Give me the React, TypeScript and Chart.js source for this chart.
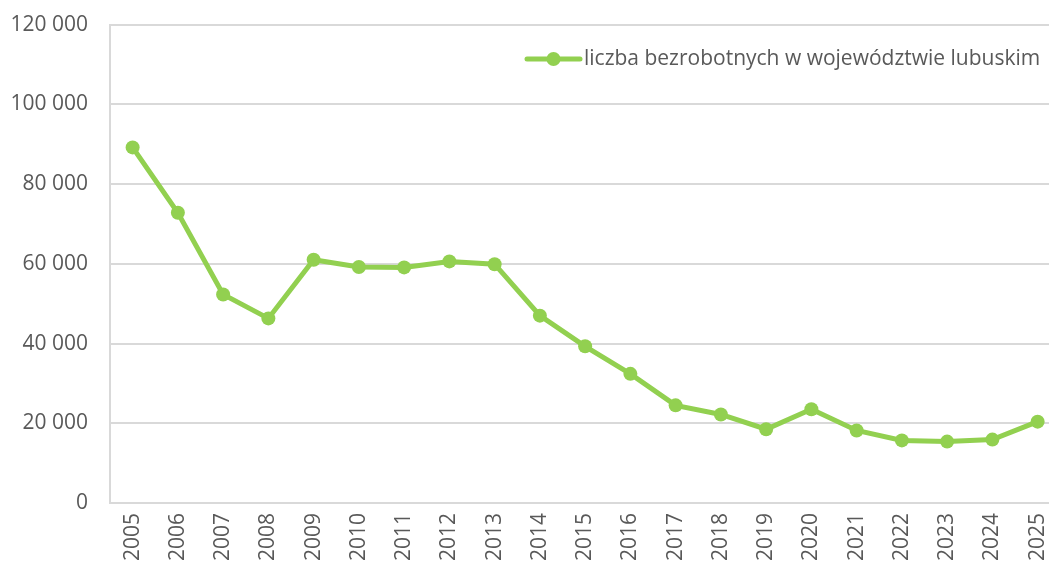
import React, { useEffect, useRef } from "react";
import { Chart, registerables } from "chart.js";

Chart.register(...registerables);

const years = ["2005","2006","2007","2008","2009","2010","2011","2012","2013","2014","2015","2016","2017","2018","2019","2020","2021","2022","2023","2024","2025"];
const unemployed = [89200, 72800, 52300, 46300, 61000, 59200, 59100, 60600, 59900, 47000, 39300, 32400, 24500, 22200, 18500, 23500, 18200, 15700, 15400, 15900, 20400];
const seriesLabel = "liczba bezrobotnych w województwie lubuskim";
const yTicks = [0, 20000, 40000, 60000, 80000, 100000, 120000];

const GREEN = "#92d050";
const TEXT = "#595959";
const GRID = "#d9d9d9";
const FONT = "'Open Sans', sans-serif";
const SHIFT = 10;

const fmt = (v: number) => v.toString().replace(/\B(?=(\d{3})+(?!\d))/g, " ");

const legendPlugin = {
  id: "customLegend",
  afterDraw(chart: any) {
    const ctx = chart.ctx;
    const y = 59 + SHIFT;
    const x0 = 527;
    const x1 = 580;
    ctx.save();
    ctx.strokeStyle = GREEN;
    ctx.lineWidth = 5;
    ctx.lineCap = "round";
    ctx.beginPath();
    ctx.moveTo(x0, y);
    ctx.lineTo(x1, y);
    ctx.stroke();
    ctx.fillStyle = GREEN;
    ctx.beginPath();
    ctx.arc((x0 + x1) / 2, y, 7, 0, Math.PI * 2);
    ctx.fill();
    ctx.fillStyle = TEXT;
    ctx.font = `21px ${FONT}`;
    ctx.textBaseline = "middle";
    ctx.textAlign = "left";
    ctx.fillText(chart.data.datasets[0].label, 584, y);
    ctx.restore();
  },
};

export default function App() {
  const ref = useRef<HTMLCanvasElement | null>(null);
  useEffect(() => {
    if (!ref.current) return;
    const chart = new Chart(ref.current, {
      type: "line",
      data: {
        labels: years,
        datasets: [
          {
            label: seriesLabel,
            data: unemployed,
            borderColor: GREEN,
            backgroundColor: GREEN,
            borderWidth: 5,
            pointRadius: 7,
            pointBackgroundColor: GREEN,
            pointBorderColor: GREEN,
            pointBorderWidth: 0,
            tension: 0,
          },
        ],
      },
      options: {
        animation: false,
        responsive: false,
        layout: { padding: { top: 13, left: 0, right: 0, bottom: 0 } },
        plugins: { legend: { display: false }, tooltip: { enabled: false } },
        scales: {
          x: {
            type: "category",
            offset: true,
            grid: { display: false, drawTicks: false },
            border: { display: true, color: GRID, width: 2 },
            ticks: {
              color: TEXT,
              font: { family: FONT, size: 21 },
              minRotation: 90,
              maxRotation: 90,
              padding: 10,
              autoSkip: false,
            },
            afterFit: (s: any) => {
              s.height = 64;
            },
          },
          y: {
            min: 0,
            max: 120000,
            afterBuildTicks: (s: any) => {
              s.ticks = yTicks.map((v) => ({ value: v }));
            },
            grid: { color: GRID, lineWidth: 2, drawTicks: false },
            border: { display: true, color: GRID, width: 2 },
            ticks: {
              color: TEXT,
              font: { family: FONT, size: 21 },
              padding: 22,
              callback: (v: any) => fmt(Number(v)),
            },
            afterFit: (s: any) => {
              s.width = 110;
            },
          },
        },
      },
      plugins: [legendPlugin],
    });
    return () => chart.destroy();
  }, []);
  return (
    <div style={{ position: "fixed", left: 0, top: 0, width: 1049, height: 567, overflow: "hidden", background: "#fff" }}>
      <canvas
        ref={ref}
        width={1073}
        height={567 + SHIFT}
        style={{ width: 1073, height: 567 + SHIFT, display: "block", marginTop: -SHIFT }}
      />
    </div>
  );
}
